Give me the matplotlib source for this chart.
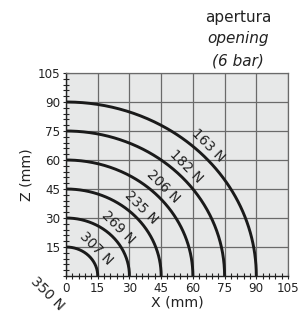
import numpy as np
import matplotlib
matplotlib.use("Agg")
import matplotlib.pyplot as plt
from matplotlib.ticker import MultipleLocator

# raggi delle curve (mm) e forze corrispondenti
radii = [15, 30, 45, 60, 75, 90]
force_labels = ['307 N', '269 N', '235 N', '206 N', '182 N', '163 N']
centre_label = '350 N'
x_ticks = [0, 15, 30, 45, 60, 75, 90, 105]
y_ticks = [15, 30, 45, 60, 75, 90, 105]

plt.rcParams['font.family'] = ['DejaVu Sans']

fig = plt.figure(figsize=(2.98, 3.22), dpi=100)
ax = fig.add_axes([0.2215, 0.1429, 0.745, 0.6304])
ax.set_facecolor('#e7e8e8')

ax.set_xlim(0, 105)
ax.set_ylim(0, 105)
ax.set_xticks(x_ticks)
ax.set_yticks(y_ticks)
ax.xaxis.set_minor_locator(MultipleLocator(3))
ax.yaxis.set_minor_locator(MultipleLocator(3))
ax.tick_params(which='both', direction='inout', length=4, width=0.8, labelsize=8.6,
               colors='#222222', pad=1.5)
ax.tick_params(which='major', length=5)
ax.grid(True, which='major', color='#6a6a6a', linewidth=0.9)
ax.set_axisbelow(True)

for s in ['left', 'bottom']:
    ax.spines[s].set_color('#222222')
    ax.spines[s].set_linewidth(1.0)
for s in ['top', 'right']:
    ax.spines[s].set_color('#6a6a6a')
    ax.spines[s].set_linewidth(0.9)

# curve a quarto di cerchio
t = np.linspace(0, np.pi / 2, 200)
for r in radii:
    ax.plot(r * np.cos(t), r * np.sin(t), color='#1a1a1a', lw=2.1, solid_capstyle='butt',
            clip_on=False)

# etichette lungo le curve
for r, lab in zip(radii, force_labels):
    d = (r + 5.2) / np.sqrt(2)
    ax.text(d, d, lab, rotation=-45, rotation_mode='anchor', ha='center', va='center',
            fontsize=9.8, color='#222222')
ax.text(-9, -9, centre_label, rotation=-45, rotation_mode='anchor', ha='center', va='center',
        fontsize=10, color='#222222', clip_on=False)

ax.set_xlabel('X (mm)', fontsize=10.2, color='#222222', labelpad=1)
ax.set_ylabel('Z (mm)', fontsize=10.2, color='#222222', labelpad=3)

fig.text(0.8, 0.947, 'apertura', ha='center', va='center', fontsize=11, color='#222222')
fig.text(0.8, 0.879, 'opening', ha='center', va='center', fontsize=11, style='italic',
         color='#222222')
fig.text(0.8, 0.811, '(6 bar)', ha='center', va='center', fontsize=11, style='italic',
         color='#222222')

fig.savefig('out.png', dpi=100)
